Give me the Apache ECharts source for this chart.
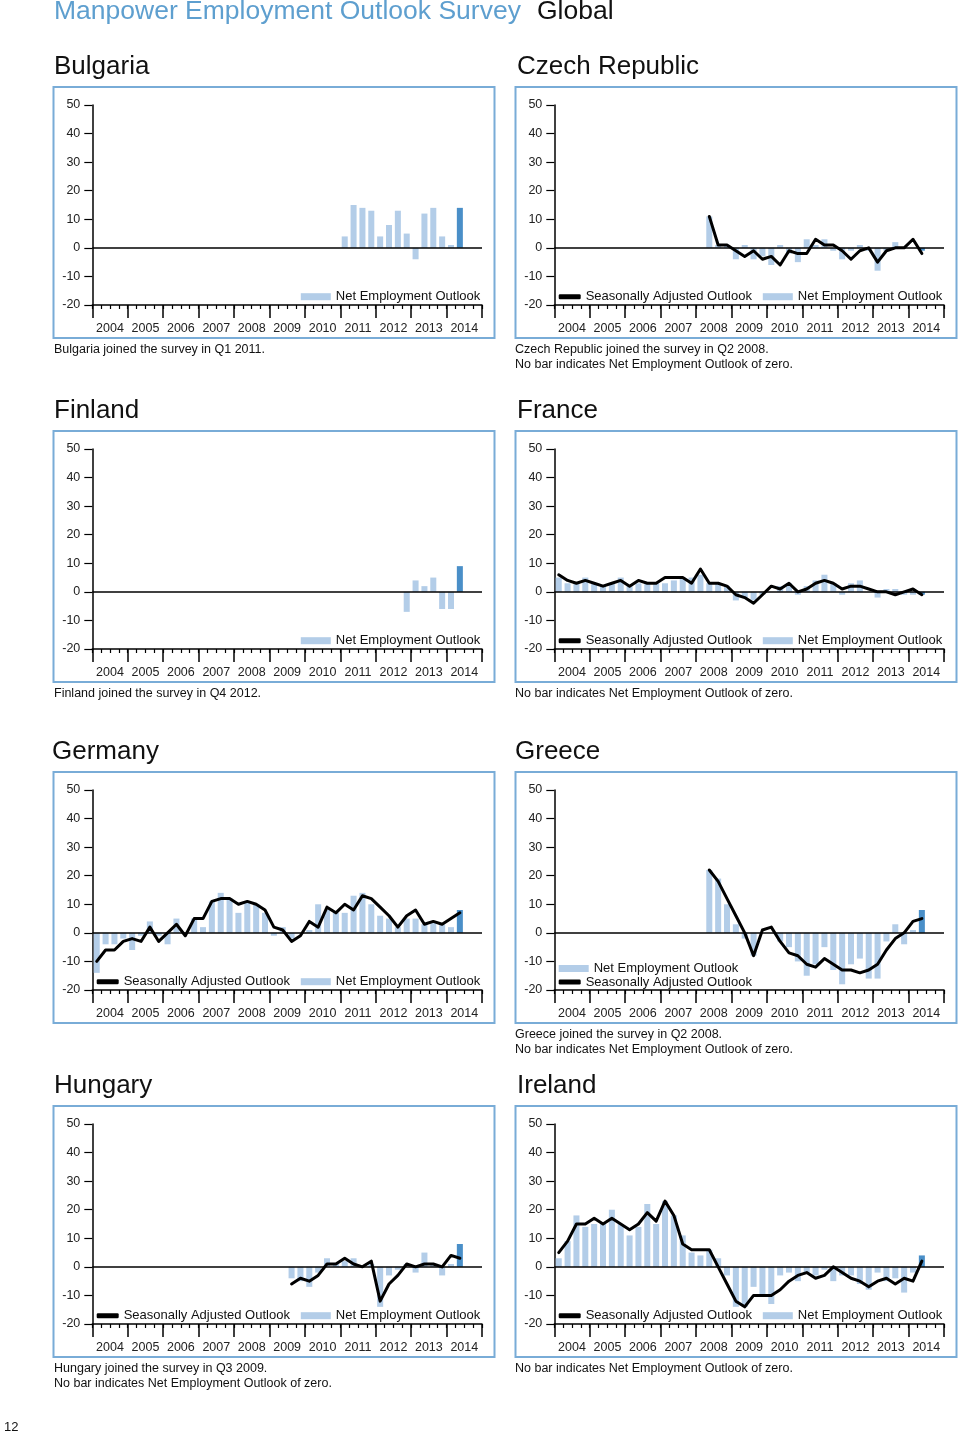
<!DOCTYPE html>
<html>
<head>
<meta charset="utf-8">
<script src="https://cdn.jsdelivr.net/npm/echarts@6.0.0/dist/echarts.min.js"></script>
<style>
html,body{margin:0;padding:0;background:#ffffff;}
#chart{width:960px;height:1433px;}
</style>
</head>
<body>
<div id="chart"></div>
<script>
// ---------- categories / ticks ----------
const years = ['2004','2005','2006','2007','2008','2009','2010','2011','2012','2013','2014'];
const quarterNames = ['Q1','Q2','Q3','Q4'];
const yTickMin = -20, yTickMax = 50, yTickStep = 10;
const currentQuarter = '2014 Q2';

// ---------- data (Net Employment Outlook = NEO, Seasonally Adjusted = SA) ----------
const bulgariaStart = '2011 Q1';
const bulgariaNEO = [4,15,14,13,4,8,13,5,-4,12,14,4,1,14];

const czechStart = '2008 Q2';
const czechNEO = [11,1,1,-4,1,-4,-3,-6,1,-2,-5,3,1,3,-1,-4,-1,1,-1,-8,-1,2,0,0,-1];
const czechSA  = [11,1,1,-1,-3,-1,-4,-3,-6,-1,-2,-2,3,1,1,-1,-4,-1,0,-5,-1,0,0,3,-2];

const finlandStart = '2012 Q4';
const finlandNEO = [-7,4,2,5,-6,-6,9];

const franceStart = '2004 Q1';
const franceNEO = [5,3,3,5,3,2,3,5,2,3,3,3,3,4,5,5,6,3,3,2,-3,-2,-3,-1,0,2,3,-1,2,4,6,3,-1,3,4,0,-2,1,1,-1,-1,-1];
const franceSA  = [6,4,3,4,3,2,3,4,2,4,3,3,5,5,5,3,8,3,3,2,-1,-2,-4,-1,2,1,3,0,1,3,4,3,1,2,2,1,0,0,-1,0,1,-1];

const germanyStart = '2004 Q1';
const germanyNEO = [-14,-4,-4,-2,-6,-1,4,-1,-4,5,0,5,2,11,14,12,7,11,10,7,-1,2,-2,0,1,10,8,7,7,13,14,10,6,5,2,5,5,3,4,3,2,8];
const germanySA  = [-10,-6,-6,-3,-2,-3,2,-3,0,3,-1,5,5,11,12,12,10,11,10,8,2,1,-3,-1,4,2,9,7,10,8,13,12,9,6,2,6,8,3,4,3,5,7];

const greeceStart = '2008 Q2';
const greeceNEO = [22,19,10,3,-2,-8,0,0,-3,-5,-10,-15,-11,-5,-13,-18,-11,-9,-16,-16,-3,3,-4,1,8];
const greeceSA  = [22,18,12,6,0,-8,1,2,-3,-7,-8,-11,-12,-9,-11,-13,-13,-14,-13,-11,-6,-2,0,4,5];

const hungaryStart = '2009 Q3';
const hungaryNEO = [-4,-5,-7,-2,3,1,2,3,0,1,-14,-3,-1,1,-2,5,1,-3,1,8];
const hungarySA  = [-6,-4,-5,-3,1,1,3,1,0,2,-12,-6,-3,1,0,1,1,0,4,3];

const irelandStart = '2004 Q1';
const irelandNEO = [3,9,18,14,15,15,20,15,11,14,22,15,23,18,11,5,4,6,3,-3,-14,-14,-7,-10,-13,-3,-2,-5,-2,-3,-1,-5,-3,-3,-6,-8,-2,-5,-4,-9,-2,4];
const irelandSA  = [5,9,15,15,17,15,17,15,13,15,19,16,23,18,8,6,6,6,0,-6,-12,-14,-10,-10,-10,-8,-5,-3,-2,-4,-3,0,-2,-4,-5,-7,-5,-4,-6,-4,-5,2];

// ---------- texts ----------
const headerTitle = 'Manpower Employment Outlook Survey';
const headerRegion = 'Global';
const pageNumber = '12';
const NEO_NAME = 'Net Employment Outlook';
const SA_NAME = 'Seasonally Adjusted Outlook';
const zeroNote = 'No bar indicates Net Employment Outlook of zero.';

const panels = [
  {title:'Bulgaria', col:0, row:0, start:bulgariaStart, neo:bulgariaNEO, sa:null,
   notes:['Bulgaria joined the survey in Q1 2011.'], legend:'neoOnly'},
  {title:'Czech Republic', col:1, row:0, start:czechStart, neo:czechNEO, sa:czechSA,
   notes:['Czech Republic joined the survey in Q2 2008.', zeroNote], legend:'row'},
  {title:'Finland', col:0, row:1, start:finlandStart, neo:finlandNEO, sa:null,
   notes:['Finland joined the survey in Q4 2012.'], legend:'neoOnly'},
  {title:'France', col:1, row:1, start:franceStart, neo:franceNEO, sa:franceSA,
   notes:[zeroNote], legend:'row'},
  {title:'Germany', col:0, row:2, start:germanyStart, neo:germanyNEO, sa:germanySA,
   notes:[], legend:'row', titleDx:-2},
  {title:'Greece', col:1, row:2, start:greeceStart, neo:greeceNEO, sa:greeceSA,
   notes:['Greece joined the survey in Q2 2008.', zeroNote], legend:'stack', titleDx:-2},
  {title:'Hungary', col:0, row:3, start:hungaryStart, neo:hungaryNEO, sa:hungarySA,
   notes:['Hungary joined the survey in Q3 2009.', zeroNote], legend:'row'},
  {title:'Ireland', col:1, row:3, start:irelandStart, neo:irelandNEO, sa:irelandSA,
   notes:[zeroNote], legend:'row'}
];

// ---------- layout / style ----------
const FONT = '"Liberation Sans", Arial, Helvetica, sans-serif';
const LIGHT = '#b3cde8';
const DARK = '#4a8fc8';
const BLUE_TITLE = '#5e9fcf';
const BOX = '#79acd7';
const colLayout = [
  {gridLeft:92.3, boxLeft:53.5, titleX:54, noteX:54},
  {gridLeft:554.3, boxLeft:515.5, titleX:517, noteX:515}
];
const rowTop = [105, 449, 790, 1124];
const GRID_W = 389.7, GRID_H = 200;

const quarters = years.flatMap(y => quarterNames.map(q => y + ' ' + q));
const curIdx = quarters.indexOf(currentQuarter);

function place(start, vals) {
  const arr = quarters.map(() => null);
  const i0 = quarters.indexOf(start);
  vals.forEach((v, k) => { arr[i0 + k] = v; });
  return arr;
}

const grid = [], xAxis = [], yAxis = [], series = [], legend = [], graphic = [];

graphic.push({type:'text', x:54, y:12, style:{text:headerTitle, fontSize:26.5, fontFamily:FONT, fill:BLUE_TITLE, verticalAlign:'middle'}});
graphic.push({type:'text', x:537, y:12, style:{text:headerRegion, fontSize:26.5, fontFamily:FONT, fill:'#111', verticalAlign:'middle'}});
graphic.push({type:'text', x:4, y:1427, style:{text:pageNumber, fontSize:13, fontFamily:FONT, fill:'#111', verticalAlign:'middle'}});

panels.forEach((p, k) => {
  const c = colLayout[p.col];
  const gl = c.gridLeft, gt = rowTop[p.row];
  grid.push({left:gl, top:gt, width:GRID_W, height:GRID_H});

  // quarter axis (data + minor ticks)
  xAxis.push({
    gridIndex:k, type:'category', data:quarters, boundaryGap:true, position:'bottom',
    axisLine:{show:true, onZero:false, lineStyle:{color:'#000', width:1.5}},
    axisTick:{show:true, interval:0, length:4, lineStyle:{color:'#000', width:1.2}},
    axisLabel:{show:false}, splitLine:{show:false}
  });
  // year axis (labels + major ticks)
  xAxis.push({
    gridIndex:k, type:'category', data:years, boundaryGap:true, position:'bottom',
    axisLine:{show:false, onZero:false},
    axisTick:{show:true, interval:0, length:13, lineStyle:{color:'#000', width:1.5}},
    axisLabel:{show:true, interval:0, margin:17, fontSize:12.5, color:'#222', fontFamily:FONT},
    splitLine:{show:false}
  });
  yAxis.push({
    gridIndex:k, type:'value', min:yTickMin, max:yTickMax, interval:yTickStep,
    axisLine:{show:true, lineStyle:{color:'#000', width:1.5}},
    axisTick:{show:true, length:8, lineStyle:{color:'#000', width:1.2}},
    axisLabel:{margin:12, fontSize:12.5, color:'#222', fontFamily:FONT},
    splitLine:{show:false}
  });

  const neoData = place(p.start, p.neo).map((v, i) =>
    (i === curIdx && v !== null) ? {value:v, itemStyle:{color:DARK}} : v);
  series.push({
    name:NEO_NAME, type:'bar', xAxisIndex:2*k, yAxisIndex:k, data:neoData,
    barCategoryGap:'32%', itemStyle:{color:LIGHT}, z:2,
    markLine:{silent:true, symbol:['none','none'], label:{show:false},
      lineStyle:{color:'#000', width:1.6, type:'solid'}, data:[{yAxis:0}]}
  });
  if (p.sa) {
    series.push({
      name:SA_NAME, type:'line', xAxisIndex:2*k, yAxisIndex:k, data:place(p.start, p.sa),
      showSymbol:false, symbol:'none', connectNulls:false, z:5,
      itemStyle:{color:'#000'}, lineStyle:{color:'#000', width:3, join:'round', cap:'round'}
    });
  }

  const legendText = {fontSize:13, color:'#111', fontFamily:FONT};
  const neoLegend = (left, cy) => ({
    left:left, top:cy - 5.5, padding:0, itemWidth:30, itemHeight:7, itemGap:0,
    textStyle:legendText, selectedMode:false,
    data:[{name:NEO_NAME, icon:'rect', itemStyle:{color:LIGHT}}]
  });
  const saLegend = (left, cy) => ({
    left:left, top:cy - 5.5, padding:0, itemWidth:22, itemHeight:5, itemGap:0,
    textStyle:legendText, selectedMode:false,
    data:[{name:SA_NAME, icon:'roundRect', itemStyle:{color:'#000'}}]
  });
  if (p.legend === 'neoOnly') {
    legend.push(neoLegend(gl + 208.5, gt + 190.7));
  } else if (p.legend === 'row') {
    legend.push(saLegend(gl + 4.4, gt + 190.7));
    legend.push(neoLegend(gl + 208.5, gt + 190.7));
  } else {
    legend.push(neoLegend(gl + 4.4, gt + 177.5));
    legend.push(saLegend(gl + 4.4, gt + 191));
  }

  // panel frame, title, notes
  graphic.push({type:'rect', shape:{x:c.boxLeft, y:gt - 18, width:441, height:251},
    style:{fill:'none', stroke:BOX, lineWidth:2}, silent:true});
  graphic.push({type:'text', x:c.titleX + (p.titleDx || 0), y:gt - 38.5,
    style:{text:p.title, fontSize:26, fontFamily:FONT, fill:'#111', verticalAlign:'middle'}});
  p.notes.forEach((t, j) => {
    graphic.push({type:'text', x:c.noteX, y:gt + 244.5 + 15 * j,
      style:{text:t, fontSize:12.5, fontFamily:FONT, fill:'#111', verticalAlign:'middle'}});
  });
});

const chart = echarts.init(document.getElementById('chart'), null, {renderer:'canvas'});
chart.setOption({
  animation:false,
  backgroundColor:'#ffffff',
  grid:grid, xAxis:xAxis, yAxis:yAxis, series:series, legend:legend, graphic:graphic,
  tooltip:{show:false}
});
</script>
</body>
</html>
